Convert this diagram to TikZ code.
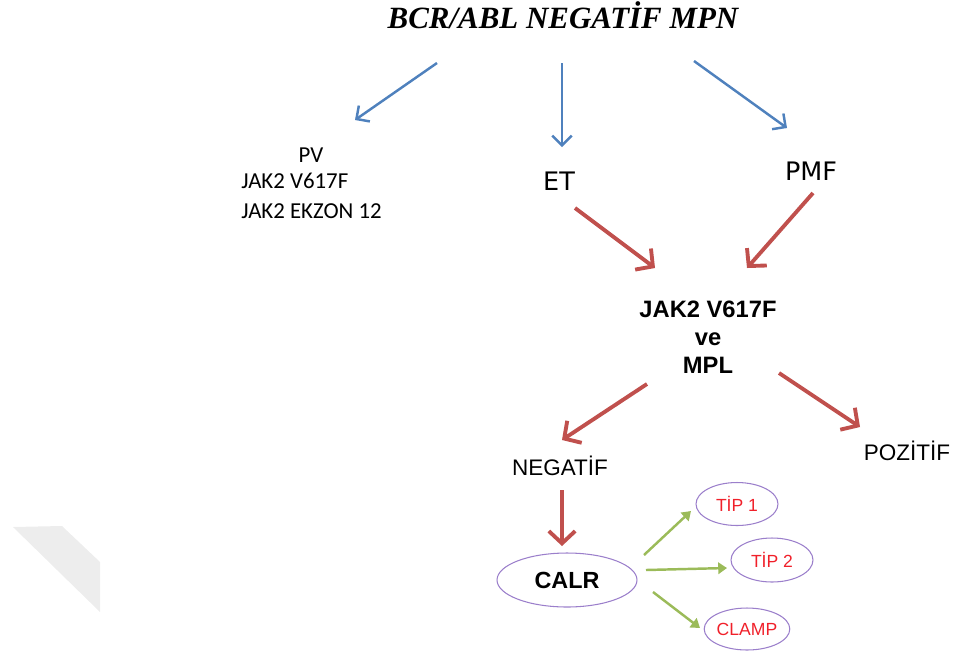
\documentclass[tikz,border=0pt]{standalone}
\usepackage{fontspec}
\newfontfamily\titlefont{Liberation Serif}
\newfontfamily\arialfont{Liberation Sans}
\newfontfamily\calfont{Carlito}
\newfontfamily\comicfont{DejaVu Sans}
\usetikzlibrary{arrows.meta,shapes.geometric}
\definecolor{arrowblue}{HTML}{4F81BD}
\definecolor{arrowred}{HTML}{C0504D}
\definecolor{arrowgreen}{HTML}{9BBB59}
\definecolor{ovalline}{HTML}{9B7FCB}
\definecolor{tiptext}{HTML}{F0202A}
\definecolor{curlgray}{HTML}{EDEDED}
\begin{document}
\begin{tikzpicture}[x=0.02cm,y=-0.02cm,
  bluearrow/.style={draw=arrowblue, line width=1.4pt, -{Straight Barb[length=5.5pt,width=11pt]}},
  redarrow/.style={draw=arrowred, line width=2.2pt, -{Straight Barb[length=7pt,width=15pt]}},
  greenarrow/.style={draw=arrowgreen, line width=1.4pt, -{Triangle[length=5pt,width=6.5pt]}},
  oval/.style={draw=ovalline, line width=0.6pt, ellipse, inner sep=0pt},
  subtype/.style={oval, text=tiptext, font=\arialfont\fontsize{10}{12}\selectfont, minimum width=1.64cm, minimum height=0.86cm},
  result/.style={anchor=base, font=\arialfont\fontsize{12.8}{15}\selectfont},
  pvline/.style={anchor=base west, inner sep=0pt, font=\calfont\fontsize{13}{15}\selectfont},
  disease/.style={anchor=base, font=\comicfont\fontsize{14.5}{17}\selectfont}
]
\useasboundingbox (0,0) rectangle (954,657);
% page curl left over from the slide
\fill[curlgray] (13,527) -- (62,526) -- (100,562) -- (100,612) -- cycle;

\node[anchor=base, font=\titlefont\bfseries\itshape\fontsize{17.6}{20}\selectfont] (title) at (563,28) {BCR/ABL NEGATİF MPN};

% first level
\node[anchor=base, font=\calfont\fontsize{13}{15}\selectfont] (pv) at (311,162) {PV};
\node[pvline] (pvjak) at (241,188) {JAK2 V617F};
\node[pvline] (pvekzon) at (241,218) {JAK2 EKZON 12};
\node[disease] (et) at (559,190) {ET};
\node[disease] (pmf) at (811,180) {PMF};

% mutation test
\node[align=center, font=\arialfont\bfseries\fontsize{13.5}{15.9}\selectfont] (jak) at (708,337) {JAK2 V617F\\ve\\MPL};
\node[result] (neg) at (560,475) {NEGATİF};
\node[result] (poz) at (907,460) {POZİTİF};

% CALR and its types
\node[oval, font=\arialfont\bfseries\fontsize{13.3}{16}\selectfont, minimum width=2.8cm, minimum height=1.08cm] (calr) at (567,580) {CALR};
\node[subtype] (tip1) at (737,504) {TİP 1};
\node[subtype, minimum height=0.88cm] (tip2) at (772,560) {TİP 2};
\node[subtype, minimum width=1.6cm, minimum height=0.84cm] (clamp) at (747,629) {CLAMP};

\draw[bluearrow] ([shift={(-126,35)}]title.base) -- ([shift={(44,-42)}]pv.base);
\draw[bluearrow] ([shift={(-1,35)}]title.base) -- ([shift={(3,-43)}]et.base);
\draw[bluearrow] ([shift={(131,33)}]title.base) -- ([shift={(-24,-52)}]pmf.base);

\draw[redarrow] ([shift={(16,18)}]et.base) -- ([shift={(-53,-69)}]jak.center);
\draw[redarrow] ([shift={(2,13)}]pmf.base) -- ([shift={(39,-69)}]jak.center);
\draw[redarrow] ([shift={(-61,47)}]jak.center) -- ([shift={(2,-35)}]neg.base);
\draw[redarrow] ([shift={(71,36)}]jak.center) -- ([shift={(-47,-33)}]poz.base);
\draw[redarrow] ([shift={(2,15)}]neg.base) -- ([shift={(-5,-34)}]calr.center);

\draw[greenarrow] ([shift={(77,-25)}]calr.center) -- ([shift={(-46,7)}]tip1.center);
\draw[greenarrow] ([shift={(79,-10)}]calr.center) -- ([shift={(-45,8)}]tip2.center);
\draw[greenarrow] ([shift={(86,12)}]calr.center) -- ([shift={(-47,-1)}]clamp.center);
\end{tikzpicture}
\end{document}
